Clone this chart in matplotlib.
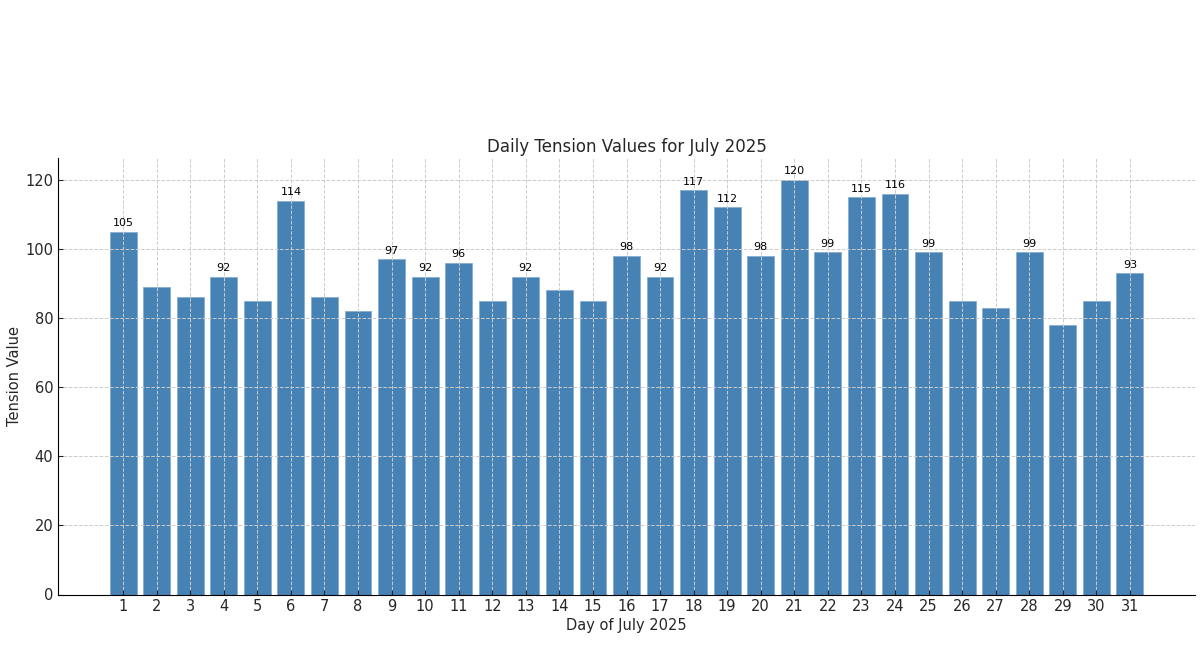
import matplotlib
matplotlib.use("Agg")
import matplotlib.pyplot as plt

days = list(range(1, 32))
values = [105, 89, 86, 92, 85, 114, 86, 82, 97, 92, 96, 85, 92, 88, 85, 98,
          92, 117, 112, 98, 120, 99, 115, 116, 99, 85, 83, 99, 78, 85, 93]

TEXT = "#262626"
fig = plt.figure(figsize=(12, 6.59), dpi=100)
ax = fig.add_axes([58/1200, 1-594.5/659, (1195-58)/1200, (594.5-158)/659])
bars = ax.bar(days, values, color="#4682B4", width=0.8,
              edgecolor="#86aed3", linewidth=0.6)
for d, v in zip(days, values):
    if v > 90:
        ax.text(d, v + 1, str(v), ha="center", va="bottom", fontsize=8, color="black")
ax.set_xticks(days)
ax.set_xlim(-0.94, 32.94)
ax.set_ylim(0, 126.3)
ax.grid(True, linestyle="--", color="#cccccc", linewidth=0.7)
ax.spines["top"].set_visible(False)
ax.spines["right"].set_visible(False)
ax.tick_params(labelsize=10.5, direction="in", colors=TEXT, labelcolor=TEXT)
ax.set_title("Daily Tension Values for July 2025", fontsize=12, color=TEXT, pad=4.5)
ax.set_xlabel("Day of July 2025", fontsize=10.5, color=TEXT, labelpad=2.5)
ax.set_ylabel("Tension Value", fontsize=10.5, color=TEXT, labelpad=2.5)
fig.savefig("out.png", dpi=100)
